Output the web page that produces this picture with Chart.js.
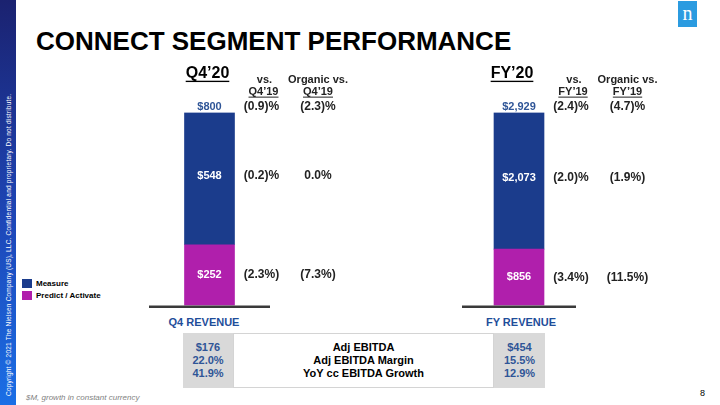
<!DOCTYPE html>
<html>
<head>
<meta charset="utf-8">
<script src="https://cdn.jsdelivr.net/npm/chart.js@4"></script>
<style>
  body { margin: 0; width: 720px; height: 405px; position: relative; overflow: hidden; background: #fff; font-family: Arial, "Liberation Sans", sans-serif; }
  .strip { position: absolute; left: 0; top: 0; width: 16px; height: 405px; background: linear-gradient(#1b2270, #1d47b8 55%, #1a6fe6); }
  .strip span { position: absolute; left: 8px; top: 396px; transform-origin: 0 0; transform: rotate(-90deg) translateY(-50%); white-space: nowrap; color: #fff; font-size: 6.5px; letter-spacing: 0.2px; }
  .logo { position: absolute; left: 678px; top: 1px; width: 19px; height: 26px; background: #2b9be0; color: #fff; font: 20px "Liberation Serif", serif; text-align: center; line-height: 25px; }
  .title { position: absolute; left: 36px; top: 26px; font-size: 26px; font-weight: bold; color: #000; white-space: nowrap; }
  canvas { position: absolute; }
  .legend { position: absolute; left: 22px; top: 279px; font-size: 8px; font-weight: bold; }
  .legend div { height: 12px; line-height: 9px; white-space: nowrap; }
  .legend i { display: inline-block; width: 10px; height: 9px; vertical-align: top; margin-right: 4px; }
  .rev { position: absolute; top: 316px; font-size: 11px; font-weight: bold; color: #1f4e9a; white-space: nowrap; transform: translateX(-50%); }
  .tbl { position: absolute; top: 333px; height: 55px; display: flex; flex-direction: column; justify-content: center; text-align: center; font-size: 11px; font-weight: bold; line-height: 13px; box-sizing: border-box; }
  .gray { background: #d9d9d9; color: #2f5597; }
  .mid { border: 1px solid #d4d4d4; color: #000; }
  .note { position: absolute; left: 26px; top: 393px; font-size: 8px; font-style: italic; color: #7f7f7f; white-space: nowrap; }
  .page { position: absolute; left: 700px; top: 388px; font-size: 9px; color: #000; }
</style>
</head>
<body>
<div class="strip"><span>Copyright © 2021 The Nielsen Company (US), LLC. Confidential and proprietary. Do not distribute.</span></div>
<div class="logo">n</div>
<div class="title">CONNECT SEGMENT PERFORMANCE</div>

<canvas id="chartQ4" width="250" height="250" style="left:140px;top:60px"></canvas>
<canvas id="chartFY" width="250" height="250" style="left:450px;top:60px"></canvas>

<div class="legend" id="legend"></div>
<div class="rev" id="rev0" style="left:204px"></div>
<div class="rev" id="rev1" style="left:521px"></div>
<div class="tbl gray" id="ebQ4" style="left:183px;width:50px"></div>
<div class="tbl mid" id="ebLab" style="left:233px;width:261px"></div>
<div class="tbl gray" id="ebFY" style="left:494px;width:51px"></div>
<div class="note">$M, growth in constant currency</div>
<div class="page">8</div>

<script>
// data
const periods = ["Q4\u201920", "FY\u201920"];
const compareLabels = ["Q4\u201919", "FY\u201919"];
const revenueLabels = ["Q4 REVENUE", "FY REVENUE"];
const segmentNames = ["Measure", "Predict / Activate"];
const segmentColors = ["#1b3c8c", "#b01fac"];
const measureValues = [548, 2073];
const predictValues = [252, 856];
const totalValues = [800, 2929];
// rows: total, measure, predict
const growthReported = [["(0.9)%", "(0.2)%", "(2.3%)"], ["(2.4)%", "(2.0)%", "(3.4%)"]];
const growthOrganic = [["(2.3)%", "0.0%", "(7.3%)"], ["(4.7)%", "(1.9%)", "(11.5%)"]];
const ebitdaLabels = ["Adj EBITDA", "Adj EBITDA Margin", "YoY cc EBITDA Growth"];
const ebitdaQ4 = ["$176", "22.0%", "41.9%"];
const ebitdaFY = ["$454", "15.5%", "12.9%"];

const FONT = "Arial, 'Liberation Sans', sans-serif";
const fmt = v => "$" + v.toLocaleString("en-US");

// html bits
document.getElementById("legend").innerHTML = segmentNames
  .map((n, i) => `<div><i style="background:${segmentColors[i]}"></i>${n}</div>`).join("");
document.getElementById("rev0").textContent = revenueLabels[0];
document.getElementById("rev1").textContent = revenueLabels[1];
document.getElementById("ebQ4").innerHTML = ebitdaQ4.map(t => `<div>${t}</div>`).join("");
document.getElementById("ebLab").innerHTML = ebitdaLabels.map(t => `<div>${t}</div>`).join("");
document.getElementById("ebFY").innerHTML = ebitdaFY.map(t => `<div>${t}</div>`).join("");

function text(ctx, str, x, y, font, color, underline) {
  ctx.font = font;
  ctx.fillStyle = color;
  ctx.textAlign = "center";
  ctx.textBaseline = "middle";
  ctx.fillText(str, x, y);
  if (underline) {
    const w = ctx.measureText(str).width;
    const size = parseInt(font.match(/(\d+)px/)[1]);
    ctx.fillRect(x - w / 2, y + size * 0.42, w, Math.max(1, size / 12));
  }
}

// draws value labels, growth columns and headers next to the bar
const segmentLabels = {
  id: "segmentLabels",
  afterDatasetsDraw(chart, args, opts) {
    const ctx = chart.ctx;
    const k = opts.index;
    const area = chart.chartArea;
    const yScale = chart.scales.y;

    // baseline
    ctx.save();
    ctx.fillStyle = "#3a3a3a";
    ctx.fillRect(area.left, yScale.getPixelForValue(0), area.right - area.left, 2.5);

    const metaP = chart.getDatasetMeta(0).data[0];
    const metaM = chart.getDatasetMeta(1).data[0];
    const x = metaP.x;
    const colVs = x + 52;
    const colOrg = x + 108.5;

    const rows = [
      { y: metaM.y - 5.5, label: fmt(totalValues[k]), color: "#2f5597" },
      { y: (metaM.y + metaM.base) / 2 - 3, label: fmt(measureValues[k]), color: "#fff" },
      { y: (metaP.y + metaP.base) / 2, label: fmt(predictValues[k]), color: "#fff" }
    ];
    rows.forEach((r, i) => {
      text(ctx, r.label, x, r.y, "bold 11px " + FONT, r.color);
      text(ctx, growthReported[k][i], colVs, r.y, "bold 12px " + FONT, "#222");
      text(ctx, growthOrganic[k][i], colOrg, r.y, "bold 12px " + FONT, "#222");
    });

    // headers
    text(ctx, periods[k], x - 2 - k * 5, 14, "bold 16px " + FONT, "#000", true);
    text(ctx, "vs.", colVs + 3, 20, "bold 11px " + FONT, "#222");
    text(ctx, compareLabels[k], colVs + 2, 32, "bold 11px " + FONT, "#222", true);
    text(ctx, "Organic vs.", colOrg, 20, "bold 11px " + FONT, "#222");
    text(ctx, compareLabels[k], colOrg, 32, "bold 11px " + FONT, "#222", true);
    ctx.restore();
  }
};

function makeChart(id, k, padLeft, padRight) {
  return new Chart(document.getElementById(id), {
    type: "bar",
    data: {
      labels: [periods[k]],
      datasets: [
        { label: segmentNames[1], data: [predictValues[k]], backgroundColor: segmentColors[1] },
        { label: segmentNames[0], data: [measureValues[k]], backgroundColor: segmentColors[0] }
      ]
    },
    options: {
      responsive: false,
      animation: false,
      devicePixelRatio: 1,
      layout: { padding: { left: padLeft, right: padRight, top: 52.5, bottom: 4.5 } },
      datasets: { bar: { barThickness: 50, borderWidth: 0 } },
      scales: {
        x: { display: false, stacked: true },
        y: { display: false, stacked: true, min: 0, max: totalValues[k] }
      },
      plugins: {
        legend: { display: false },
        tooltip: { enabled: false },
        segmentLabels: { index: k }
      }
    },
    plugins: [segmentLabels]
  });
}

makeChart("chartQ4", 0, 9, 120);
makeChart("chartFY", 1, 12, 124);
</script>
</body>
</html>
